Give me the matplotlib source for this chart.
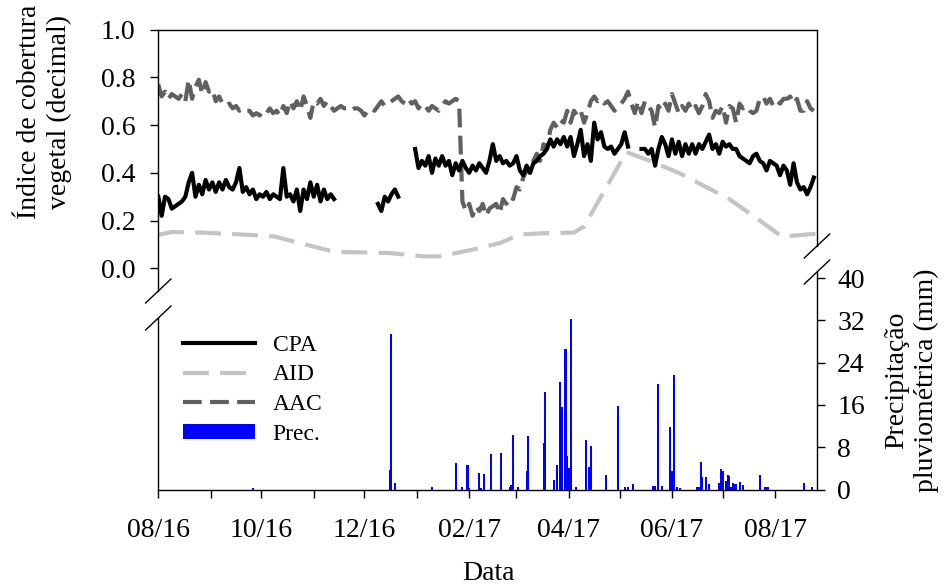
import matplotlib
matplotlib.use('Agg')
import matplotlib.pyplot as plt
import matplotlib.dates as mdates
from matplotlib.lines import Line2D
from matplotlib.patches import Patch
import numpy as np
import pandas as pd

plt.rcParams['font.family'] = ['Liberation Serif', 'DejaVu Serif']

# ---------------- data ----------------
series_dates = pd.date_range('2016-08-01', periods=195, freq='2D')
N = np.nan
cpa = [0.30, 0.22, 0.30, 0.29, 0.25, 0.26, 0.27, 0.28, 0.30, 0.36,
       0.40, 0.30, 0.35, 0.31, 0.37, 0.33, 0.36, 0.32, 0.36, 0.33,
       0.37, 0.34, 0.33, 0.36, 0.42, 0.32, 0.34, 0.31, 0.33, 0.29,
       0.31, 0.30, 0.32, 0.29, 0.31, 0.30, 0.29, 0.42, 0.30, 0.31,
       0.28, 0.33, 0.24, 0.33, 0.29, 0.36, 0.30, 0.35, 0.28, 0.33,
       0.29, 0.31, 0.29,
       N, N, N, N, N, N, N, N, N, N, N, N,
       0.27, 0.24, 0.30, 0.28, 0.31, 0.33, 0.30,
       N, N, N, N,
       0.50, 0.42, 0.45, 0.43, 0.47, 0.40, 0.46, 0.43, 0.47, 0.43,
       0.45, 0.39, 0.44, 0.41, 0.45, 0.42, 0.40, 0.43, 0.41, 0.44,
       0.42, 0.40, 0.45, 0.52, 0.45, 0.47, 0.44, 0.45, 0.43, 0.44,
       0.47, 0.41, 0.39, 0.43, 0.40, 0.44, 0.45, 0.47, 0.48, 0.50,
       0.54, 0.51, 0.54, 0.52, 0.55, 0.51, 0.55, 0.47, 0.52, 0.58,
       0.47, 0.52, 0.45, 0.61, 0.54, 0.57, 0.51, 0.50, 0.51, 0.48,
       0.50, 0.52, 0.57, 0.51,
       N, N, N,
       0.50, 0.50, 0.48, 0.50, 0.43, 0.50, 0.55, 0.52, 0.47, 0.54,
       0.48, 0.53, 0.47, 0.52, 0.48, 0.52, 0.48, 0.52, 0.50, 0.53,
       0.56, 0.50, 0.52, 0.48, 0.53, 0.51, 0.52, 0.50, 0.50, 0.47,
       0.46, 0.45, 0.44, 0.47, 0.48, 0.45, 0.44, 0.41, 0.45, 0.44,
       0.43, 0.39, 0.43, 0.41, 0.35, 0.44, 0.36, 0.33, 0.34, 0.31,
       0.34, 0.38]
aac = [0.77, 0.72, 0.74, 0.71, 0.73, 0.72, 0.71, 0.73, 0.70, 0.79,
       0.71, 0.76, 0.79, 0.73, 0.78, 0.74, 0.75, 0.70, 0.72, 0.69,
       0.68, 0.69, 0.67, 0.68, 0.66, 0.67, 0.66, 0.66, 0.64, 0.65,
       0.64, 0.66, 0.65, 0.67, 0.65, 0.66, 0.64, 0.68, 0.65, 0.70,
       0.67, 0.70, 0.66, 0.72, 0.68, 0.63, 0.70, 0.69, 0.71, 0.68,
       0.70, 0.68, 0.66, 0.67, 0.68, 0.67, 0.67, 0.66, 0.67, 0.67,
       0.66, 0.64, 0.66, 0.67, 0.66, 0.68, 0.70, 0.68, 0.69, 0.70,
       0.71, 0.72, 0.70, 0.69, 0.71, 0.69, 0.70, 0.67, 0.69, 0.68,
       0.66, 0.68, 0.67, 0.66, 0.68, 0.70, 0.69, 0.70, 0.71, 0.70,
       0.28, 0.24, 0.27, 0.22, 0.26, 0.24, 0.27, 0.22, 0.25, 0.26,
       0.27, 0.23, 0.29, 0.27, 0.30, 0.29, 0.34, 0.33, 0.38, 0.41,
       0.40, 0.45, 0.48, 0.45, 0.52, 0.50, 0.58, 0.61, 0.59, 0.62,
       0.61, 0.66, 0.61, 0.66, 0.64, 0.66, 0.61, 0.65, 0.70, 0.72,
       0.70, 0.71, 0.69, 0.70, 0.68, 0.66, 0.68, 0.69, 0.71, 0.74,
       0.69, 0.65, 0.70, 0.65, 0.70, 0.68, 0.66, 0.59, 0.68, 0.66,
       0.69, 0.66, 0.73, 0.69, 0.65, 0.68, 0.66, 0.69, 0.66, 0.68,
       0.65, 0.68, 0.73, 0.70, 0.63, 0.66, 0.65, 0.68, 0.61, 0.68,
       0.67, 0.61, 0.69, 0.67, 0.68, 0.66, 0.65, 0.66, 0.71, 0.72,
       0.69, 0.71, 0.68, 0.70, 0.69, 0.71, 0.71, 0.72, 0.69, 0.71,
       0.66, 0.66, 0.70, 0.67, 0.66]

aid_dates = ['2016-08-01', '2016-08-09', '2016-08-26', '2016-09-24', '2016-10-09',
             '2016-10-24', '2016-11-10', '2016-11-19', '2016-12-16', '2017-01-05',
             '2017-01-14', '2017-02-01', '2017-02-19', '2017-03-03', '2017-03-18',
             '2017-04-04', '2017-04-10', '2017-05-05', '2017-05-19', '2017-06-05',
             '2017-07-05', '2017-07-25', '2017-08-05', '2017-08-26']
aid = [0.140, 0.152, 0.150, 0.140, 0.133,
       0.105, 0.075, 0.068, 0.064, 0.050,
       0.050, 0.075, 0.105, 0.142, 0.147,
       0.150, 0.175, 0.487, 0.450, 0.400,
       0.290, 0.190, 0.133, 0.145]

prec_dates = ['2016-09-26', '2016-12-16', '2016-12-17', '2016-12-19', '2017-01-10',
              '2017-01-24', '2017-01-28', '2017-01-31', '2017-02-01', '2017-02-07',
              '2017-02-08', '2017-02-10', '2017-02-14', '2017-02-20', '2017-02-25',
              '2017-02-26', '2017-02-27', '2017-03-02', '2017-03-07', '2017-03-08',
              '2017-03-17', '2017-03-18', '2017-03-23', '2017-03-25', '2017-03-27',
              '2017-03-28', '2017-03-30', '2017-03-31', '2017-04-01', '2017-04-02',
              '2017-04-05', '2017-04-11', '2017-04-13', '2017-04-14', '2017-04-23',
              '2017-04-30', '2017-05-04', '2017-05-06', '2017-05-09', '2017-05-21',
              '2017-05-22', '2017-05-24', '2017-05-26', '2017-05-31', '2017-06-01',
              '2017-06-02', '2017-06-04', '2017-06-06', '2017-06-16', '2017-06-17',
              '2017-06-18', '2017-06-19', '2017-06-21', '2017-06-23', '2017-06-29',
              '2017-06-30', '2017-07-01', '2017-07-03', '2017-07-04', '2017-07-05',
              '2017-07-06', '2017-07-07', '2017-07-08', '2017-07-09', '2017-07-11',
              '2017-07-13', '2017-07-23', '2017-07-26', '2017-07-27', '2017-07-28',
              '2017-08-18', '2017-08-23']
prec_mm = [0.3, 3.7, 29.4, 1.3, 0.4,
           5.0, 0.5, 4.6, 0.3, 3.2,
           0.3, 2.9, 6.8, 7.0, 0.4,
           0.8, 10.3, 0.5, 3.5, 10.2,
           8.9, 18.5, 1.9, 4.6, 20.4,
           15.7, 26.6, 6.4, 4.0, 32.2,
           0.5, 9.3, 4.3, 8.2, 2.7,
           15.8, 0.5, 0.5, 1.0, 0.6,
           0.6, 20.0, 0.6, 11.8, 3.5,
           21.6, 0.5, 0.3, 0.4, 0.4,
           5.2, 2.4, 2.4, 1.0, 1.3,
           3.8, 3.5, 1.6, 2.7, 2.6,
           0.4, 1.2, 1.1, 1.1, 1.4,
           0.8, 2.7, 0.4, 0.4, 0.4,
           1.3, 0.4]

x_tick_months = [2, 4, 6, 8, 10, 12]
left_ticks = [0.0, 0.2, 0.4, 0.6, 0.8, 1.0]
right_ticks = [0, 8, 16, 24, 32, 40]

# ---------------- figure ----------------
W, H = 949, 587
fig = plt.figure(figsize=(W / 100, H / 100), dpi=100)
L, R, T, B = 158.3, 817.0, 29.6, 489.6
ax1 = fig.add_axes([L / W, 1 - B / H, (R - L) / W, (B - T) / H])
ax2 = ax1.twinx()

top_unit = (268.3 - T)
ax1.set_ylim(-(B - 268.3) / top_unit, 1.0)
mm_px = (B - 278.0) / 40.0
ax2.set_ylim(0, (B - T) / mm_px)

x0 = mdates.date2num(pd.Timestamp('2016-08-01'))
ax1.set_xlim(x0, x0 + (R - L) / 1.6896)

sd = mdates.date2num(series_dates)
ax1.plot(mdates.date2num(pd.to_datetime(aid_dates)), aid, color='#c4c4c4', lw=3.0,
         linestyle=(0, (6.2, 2.7)), dash_capstyle='butt', solid_joinstyle='round')
ax1.plot(sd, aac, color='#606060', lw=3.0, linestyle=(0, (4.5, 2.0)),
         dash_capstyle='butt')
ax1.plot(sd, cpa, color='black', lw=3.0, solid_joinstyle='round')

ax2.bar(mdates.date2num(pd.to_datetime(prec_dates)), prec_mm, width=1.2,
        color='#0000ff', edgecolor='none', align='center')

# ticks
ax1.set_yticks(left_ticks)
ax1.set_yticklabels([f'{v:.1f}' for v in left_ticks])
ax2.set_yticks(right_ticks)
ax2.set_yticklabels([str(v) for v in right_ticks])
ax1.xaxis.set_major_locator(mdates.MonthLocator(bymonth=x_tick_months))
ax1.xaxis.set_major_formatter(mdates.DateFormatter('%m/%y'))
ax1.xaxis.set_minor_locator(mdates.MonthLocator(bymonth=[1, 3, 5, 7, 9, 11]))
for ax in (ax1, ax2):
    ax.tick_params(which='both', direction='out', length=5.5, width=1.0,
                   labelsize=20, pad=9, colors='black')
ax1.tick_params(axis='y', right=False, left=True, pad=11)
ax1.tick_params(axis='x', top=False, bottom=True, which='both', pad=15)
ax2.tick_params(axis='y', right=True, left=False)

# spines with breaks
for ax in (ax1, ax2):
    for s in ax.spines.values():
        s.set_linewidth(1.0)
ax1.spines['left'].set_bounds(-(291 - 268.3) / top_unit, 1.0)
ax1.spines['right'].set_bounds((268.3 - 246) / top_unit, 1.0)
ax2.spines['left'].set_bounds(0, (B - 318) / mm_px)
ax2.spines['right'].set_bounds(0, (B - 272) / mm_px)
ax2.spines['top'].set_visible(False)
ax2.spines['bottom'].set_visible(False)

aw, ah = R - L, B - T
dx, dy = 12.7 / aw, 12.0 / ah
for (xf, ypx) in [(0.0, 291), (0.0, 318), (1.0, 246), (1.0, 272)]:
    yf = (B - ypx) / ah
    ax1.plot([xf - dx, xf + dx], [yf - dy, yf + dy], color='black', lw=1.0,
             transform=ax1.transAxes, clip_on=False)

# legend
handles = [Line2D([], [], color='black', lw=3.0),
           Line2D([], [], color='#c4c4c4', lw=3.0, linestyle=(0, (6.2, 2.7)), dash_capstyle='butt'),
           Line2D([], [], color='#606060', lw=3.0, linestyle=(0, (4.5, 2.0)), dash_capstyle='butt'),
           Patch(facecolor='#0000ff', edgecolor='none')]
leg = ax2.legend(handles, ['CPA', 'AID', 'AAC', 'Prec.'], loc='upper left',
                 bbox_to_anchor=((183 - L) / aw, (B - 335) / ah), frameon=False,
                 fontsize=17, handlelength=3.05, handletextpad=0.75,
                 labelspacing=0.36, borderpad=0, borderaxespad=0, handleheight=0.6)

# labels
fig.text(44.5 / W, 1 - 112 / H, 'Índice de cobertura\nvegetal (decimal)', rotation=90,
         ha='center', va='center', fontsize=20, linespacing=1.22)
fig.text(911.5 / W, 1 - 380 / H, 'Precipitação\npluviométrica (mm)', rotation=90,
         ha='center', va='center', fontsize=20, linespacing=1.22)
fig.text(488 / W, 1 - 574 / H, 'Data', ha='center', va='center', fontsize=20)

fig.savefig('out.png', dpi=100)
